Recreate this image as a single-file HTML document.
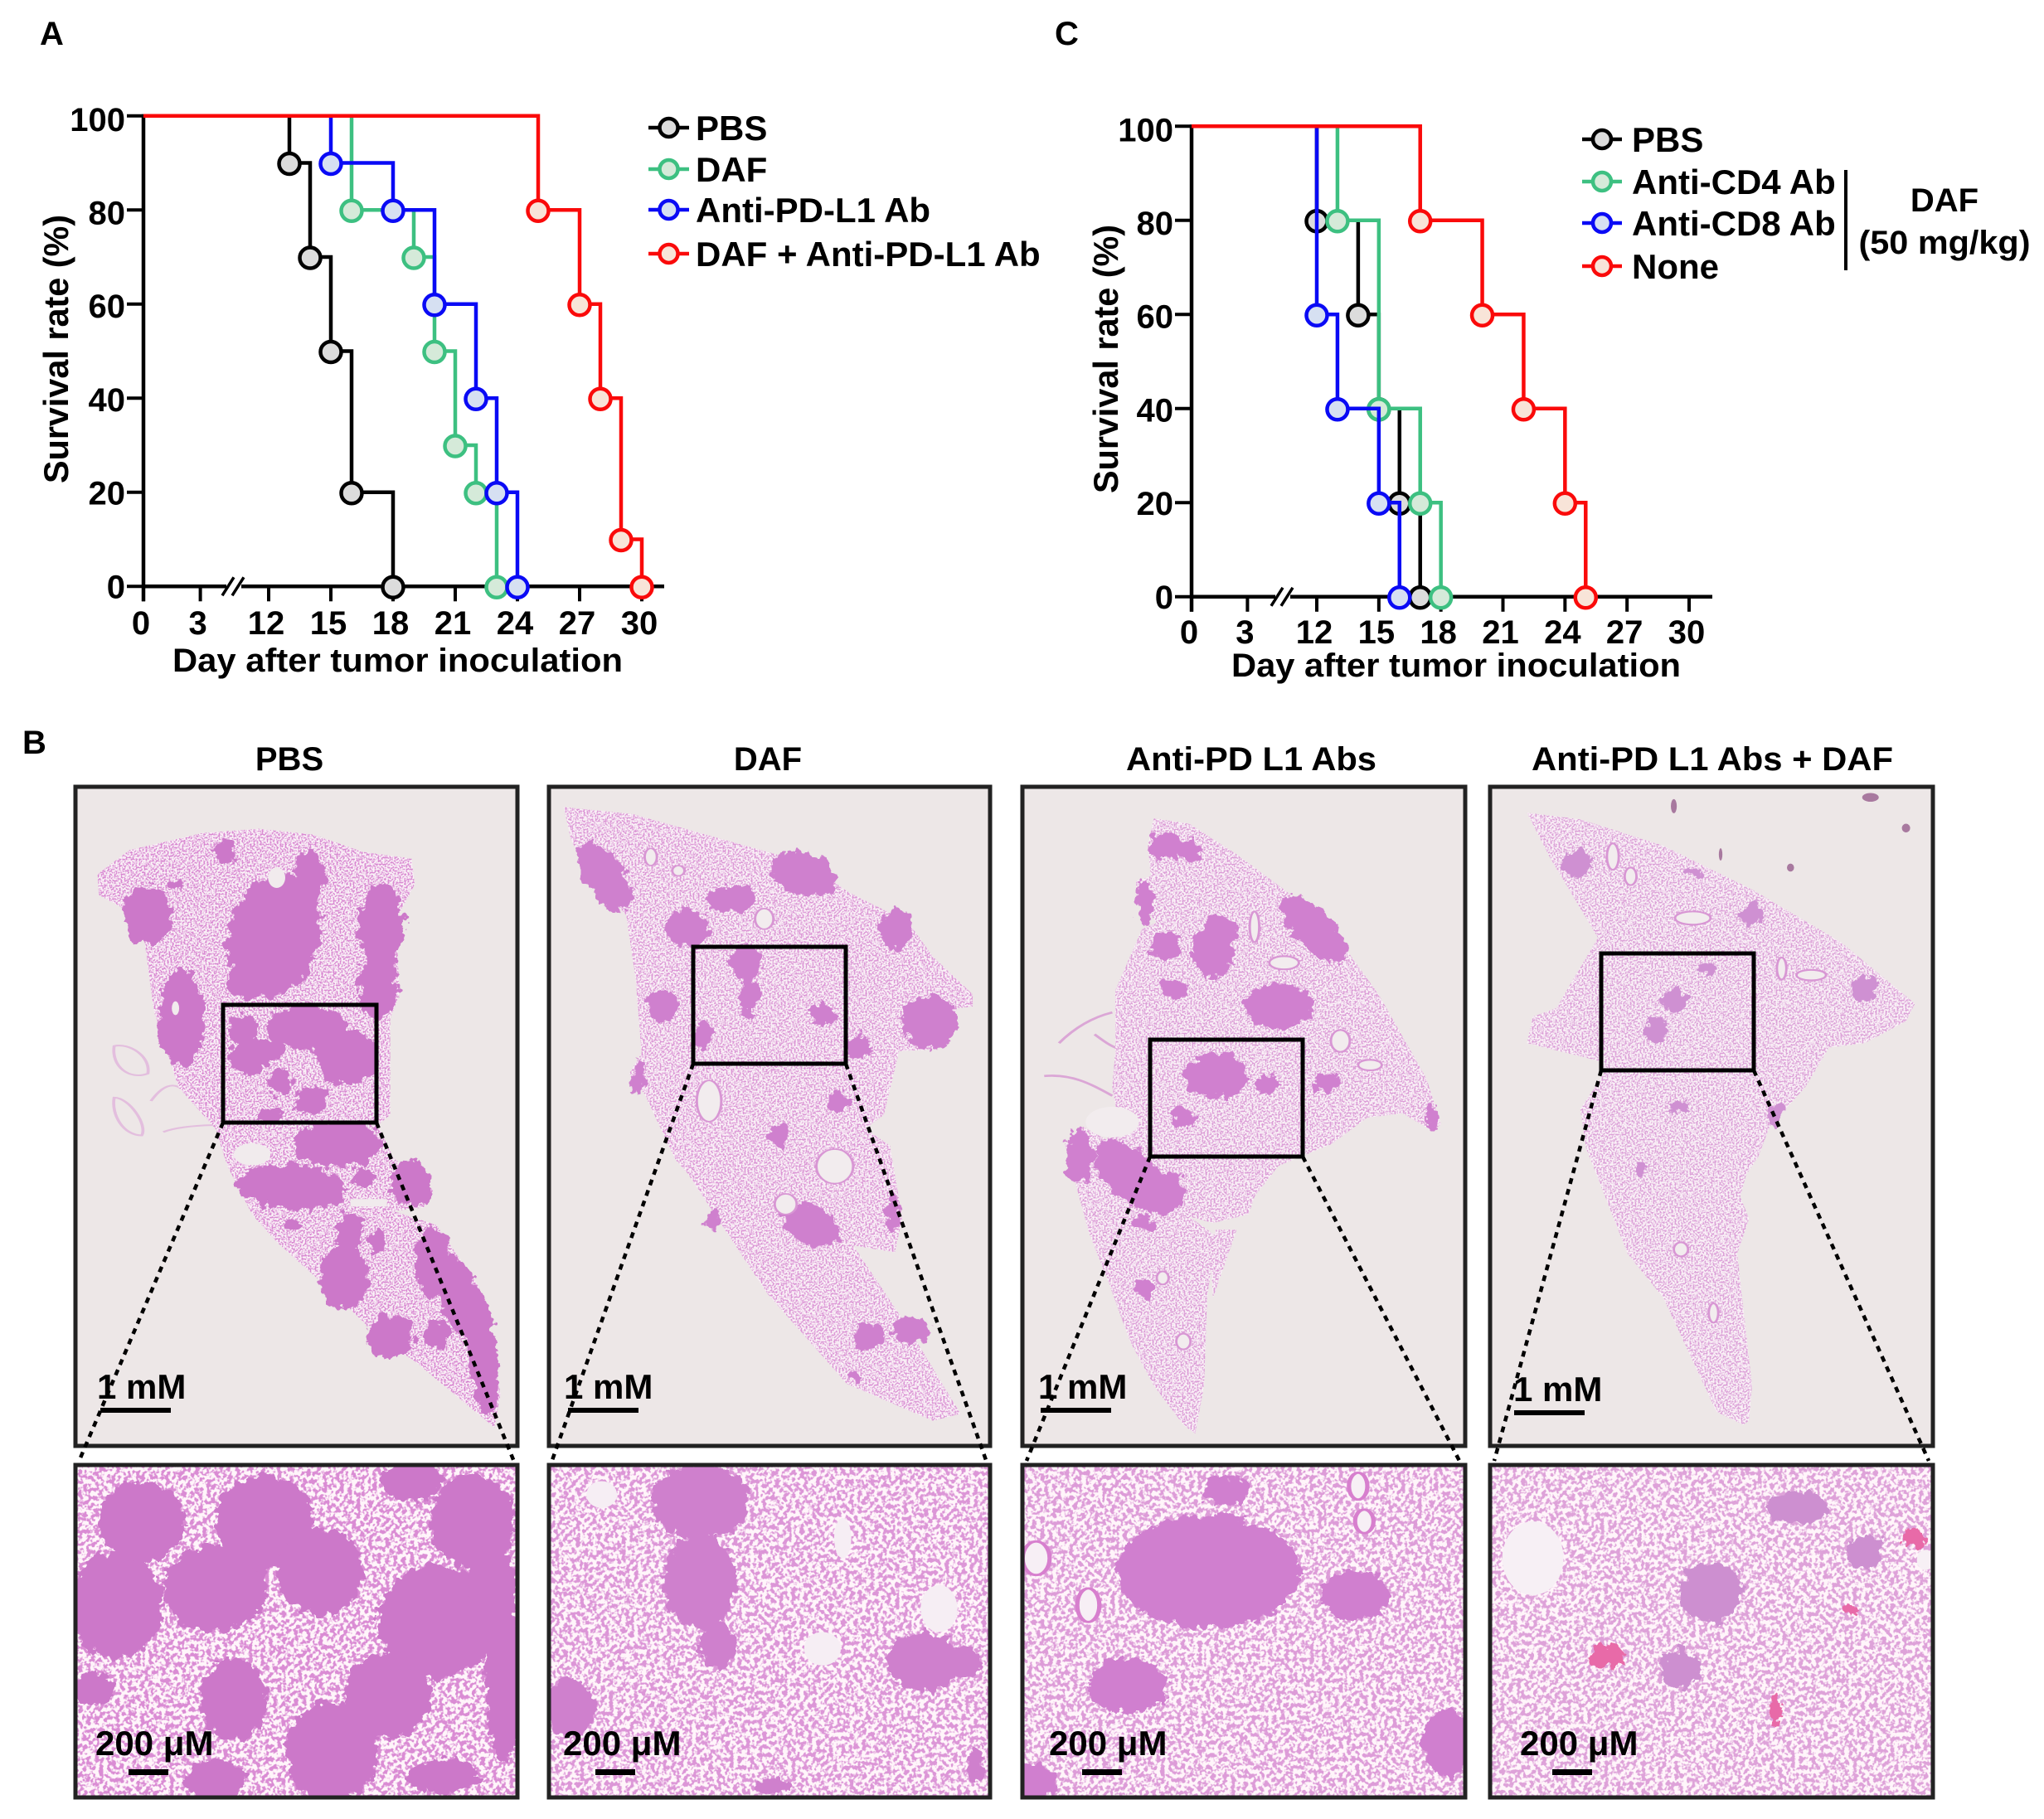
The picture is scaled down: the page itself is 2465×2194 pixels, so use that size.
<!DOCTYPE html>
<html lang="en">
<head>
<meta charset="utf-8">
<title>Survival curves and lung histology</title>
<style>
html,body{margin:0;padding:0;background:#fff}
svg{display:block}
text{font-family:"Liberation Sans",Arial,sans-serif;font-weight:700;font-size:40px;fill:#000}
text.big{font-size:42px}
</style>
</head>
<body>
<svg id="figure" width="2465" height="2194" viewBox="0 0 2465 2194" xmlns="http://www.w3.org/2000/svg">
<defs>
<filter id="laceFine" x="0" y="0" width="100%" height="100%" color-interpolation-filters="sRGB">
  <feTurbulence type="fractalNoise" baseFrequency="0.5" numOctaves="2" seed="4" result="n"/>
  <feColorMatrix in="n" type="matrix" values="0 0 0 0 0.98 0 0 0 0 0.95 0 0 0 0 0.97 8 0 0 0 -3.3" result="w"/>
  <feComposite in="w" in2="SourceGraphic" operator="atop"/>
</filter>
<filter id="laceCoarse" x="0" y="0" width="100%" height="100%" color-interpolation-filters="sRGB">
  <feTurbulence type="fractalNoise" baseFrequency="0.2" numOctaves="2" seed="9" result="n"/>
  <feColorMatrix in="n" type="matrix" values="0 0 0 0 1 0 0 0 0 0.96 0 0 0 0 0.98 8 0 0 0 -3.4" result="w"/>
  <feComposite in="w" in2="SourceGraphic" operator="atop"/>
</filter>
<filter id="rough" x="-10%" y="-10%" width="120%" height="120%" color-interpolation-filters="sRGB">
  <feTurbulence type="fractalNoise" baseFrequency="0.09" numOctaves="3" seed="2" result="n"/>
  <feDisplacementMap in="SourceGraphic" in2="n" scale="20" xChannelSelector="R" yChannelSelector="G"/>
</filter>
<clipPath id="clipP1"><rect x="91" y="1767" width="533" height="401"/></clipPath>
<clipPath id="clipP2"><rect x="662" y="1767" width="532" height="401"/></clipPath>
<clipPath id="clipP3"><rect x="1233" y="1767" width="534" height="401"/></clipPath>
<clipPath id="clipP4"><rect x="1797" y="1767" width="534" height="401"/></clipPath>
<clipPath id="clipU1"><rect x="91" y="949" width="533" height="795"/></clipPath>
<clipPath id="clipU2"><rect x="662" y="949" width="532" height="795"/></clipPath>
<clipPath id="clipU3"><rect x="1233" y="949" width="534" height="795"/></clipPath>
<clipPath id="clipU4"><rect x="1797" y="949" width="534" height="795"/></clipPath>
</defs>

<text x="48" y="54">A</text>
<text x="1272" y="54">C</text>
<text x="27" y="909">B</text>

<g id="chartA"></g>
<g id="chartC"></g>

<text class="big" transform="translate(82,421) rotate(-90)" text-anchor="middle" textLength="324" lengthAdjust="spacingAndGlyphs">Survival rate (%)</text>
<text x="208" y="810" textLength="543" lengthAdjust="spacingAndGlyphs">Day after tumor inoculation</text>
<text class="big" transform="translate(1348,433) rotate(-90)" text-anchor="middle" textLength="324" lengthAdjust="spacingAndGlyphs">Survival rate (%)</text>
<text x="1485" y="816" textLength="542" lengthAdjust="spacingAndGlyphs">Day after tumor inoculation</text>

<line x1="2226" y1="205" x2="2226" y2="326" stroke="#000" stroke-width="4"/>
<text x="2345" y="255" text-anchor="middle">DAF</text>
<text x="2345" y="306" text-anchor="middle" textLength="207" lengthAdjust="spacingAndGlyphs">(50 mg/kg)</text>

<text x="349" y="929" text-anchor="middle">PBS</text>
<text x="926" y="929" text-anchor="middle">DAF</text>
<text x="1509" y="929" text-anchor="middle" textLength="302" lengthAdjust="spacingAndGlyphs">Anti-PD L1 Abs</text>
<text x="2065" y="929" text-anchor="middle" textLength="436" lengthAdjust="spacingAndGlyphs">Anti-PD L1 Abs + DAF</text>

<!-- Panel backgrounds -->
<rect x="91" y="949" width="533" height="795" fill="#ede7e7"/>
<rect x="662" y="949" width="532" height="795" fill="#ede7e7"/>
<rect x="1233" y="949" width="534" height="795" fill="#ede7e7"/>
<rect x="1797" y="949" width="534" height="795" fill="#ede7e7"/>

<!-- Upper panel 1 -->
<g clip-path="url(#clipU1)">
 <g transform="translate(60,930) scale(.7396,.4146)" fill="none" stroke="#e3bede" stroke-width="5">
  <path d="M105,800 C130,790 165,830 160,880 C130,900 100,860 105,800 Z"/>
  <path d="M105,950 C130,950 160,1030 150,1060 C120,1060 100,1000 105,950 Z"/>
  <path d="M165,960 C190,900 210,900 235,960 L275,1030 C230,1030 200,1040 185,1050"/>
 </g>
 <g filter="url(#laceFine)">
  <g transform="translate(60,930) scale(.7396,.4146)" fill="#d98ad2">
   <path d="M250,180 L340,168 L430,185 L510,235 L590,255 L595,330 L565,430 L570,650 L555,720 L555,1000 L535,1030 L560,1125 L625,1220 L610,1270 L560,1280 L630,1320 L700,1500 L735,1812 L725,1910 L600,1724 L530,1636 L470,1530 L370,1370 L330,1290 L290,1150 L270,1040 L210,920 L170,700 L155,500 L120,400 L80,360 L78,300 L130,230 Z"/>
  </g>
 </g>
 <g filter="url(#rough)">
  <g transform="translate(60,930) scale(.7396,.4146)" fill="#cc78c9">
   <ellipse cx="160" cy="420" rx="40" ry="85"/><ellipse cx="205" cy="335" rx="10" ry="18"/><ellipse cx="285" cy="235" rx="15" ry="35"/>
   <ellipse cx="365" cy="480" rx="75" ry="180" transform="rotate(5 365 480)"/><ellipse cx="425" cy="300" rx="24" ry="70"/><ellipse cx="320" cy="610" rx="30" ry="50"/>
   <ellipse cx="540" cy="450" rx="38" ry="120"/><ellipse cx="535" cy="620" rx="32" ry="100"/><ellipse cx="215" cy="720" rx="38" ry="140"/>
   <ellipse cx="325" cy="830" rx="34" ry="55"/><ellipse cx="315" cy="750" rx="24" ry="45"/><ellipse cx="420" cy="745" rx="65" ry="65"/>
   <ellipse cx="360" cy="810" rx="25" ry="30"/><ellipse cx="485" cy="830" rx="50" ry="80"/><ellipse cx="375" cy="905" rx="20" ry="40"/>
   <ellipse cx="425" cy="960" rx="25" ry="40"/><ellipse cx="360" cy="1000" rx="18" ry="18"/><ellipse cx="470" cy="1085" rx="70" ry="70"/>
   <ellipse cx="510" cy="1180" rx="18" ry="25"/><ellipse cx="395" cy="1210" rx="90" ry="65" transform="rotate(15 395 1210)"/>
   <ellipse cx="590" cy="1200" rx="32" ry="70"/><ellipse cx="490" cy="1340" rx="22" ry="55"/><ellipse cx="535" cy="1370" rx="14" ry="34"/>
   <ellipse cx="395" cy="1320" rx="15" ry="15"/><ellipse cx="480" cy="1470" rx="40" ry="95"/><ellipse cx="625" cy="1430" rx="28" ry="105"/>
   <ellipse cx="670" cy="1530" rx="35" ry="120" transform="rotate(-10 670 1530)"/><ellipse cx="705" cy="1690" rx="25" ry="180" transform="rotate(-3 705 1690)"/>
   <ellipse cx="555" cy="1646" rx="38" ry="65"/><ellipse cx="630" cy="1641" rx="22" ry="38"/>
  </g>
 </g>
 <g transform="translate(60,930) scale(.7396,.4146)" fill="#f1ebed">
  <ellipse cx="205" cy="690" rx="6" ry="20"/><ellipse cx="330" cy="1115" rx="30" ry="32"/><ellipse cx="370" cy="310" rx="14" ry="30"/><rect x="490" y="1245" width="60" height="22"/>
 </g>
</g>

<!-- Upper panel 2 -->
<g clip-path="url(#clipU2)">
 <g filter="url(#laceFine)">
  <g transform="translate(60,930) scale(.7396,.4146)" fill="#dc98d6">
   <path d="M838,105 L950,125 L1000,150 L1160,230 L1240,270 L1300,350 L1400,440 L1440,540 L1505,650 L1505,685 L1480,690 L1440,810 L1385,815 L1360,1000 L1330,1040 L1370,1090 L1390,1300 L1378,1400 L1310,1380 L1400,1620 L1485,1870 L1440,1890 L1300,1783 L1170,1520 L1040,1170 L1020,1130 L970,940 L945,880 L965,820 L955,600 L940,420 L880,300 L850,200 Z"/>
  </g>
 </g>
 <g filter="url(#rough)">
  <g transform="translate(60,930) scale(.7396,.4146)" fill="#cf80ce">
   <ellipse cx="905" cy="310" rx="35" ry="105" transform="rotate(-15 905 310)"/><ellipse cx="1230" cy="300" rx="50" ry="70" transform="rotate(-25 1230 300)"/>
   <ellipse cx="1110" cy="370" rx="40" ry="40"/><ellipse cx="1040" cy="460" rx="35" ry="55"/><ellipse cx="1135" cy="560" rx="25" ry="55"/>
   <ellipse cx="1140" cy="650" rx="15" ry="60"/><ellipse cx="1000" cy="680" rx="25" ry="50"/><ellipse cx="1065" cy="770" rx="15" ry="40"/>
   <ellipse cx="1260" cy="710" rx="20" ry="30"/><ellipse cx="1320" cy="800" rx="18" ry="35"/><ellipse cx="1435" cy="730" rx="45" ry="80"/>
   <ellipse cx="1380" cy="460" rx="25" ry="60"/><ellipse cx="1285" cy="965" rx="18" ry="30"/><ellipse cx="1190" cy="1060" rx="15" ry="40"/>
   <ellipse cx="1240" cy="1320" rx="40" ry="70" transform="rotate(-25 1240 1320)"/><ellipse cx="1080" cy="1310" rx="15" ry="25"/>
   <ellipse cx="1375" cy="1280" rx="12" ry="60"/><ellipse cx="960" cy="890" rx="10" ry="50"/><ellipse cx="1335" cy="1646" rx="25" ry="40"/>
   <ellipse cx="1405" cy="1627" rx="30" ry="40"/><ellipse cx="1315" cy="1763" rx="10" ry="15"/>
  </g>
 </g>
 <g transform="translate(60,930) scale(.7396,.4146)" fill="#f2ecee" stroke="#d896d4" stroke-width="4">
  <ellipse cx="980" cy="250" rx="10" ry="25"/><ellipse cx="1025" cy="290" rx="10" ry="15"/><ellipse cx="1165" cy="430" rx="15" ry="30"/>
  <ellipse cx="1075" cy="960" rx="20" ry="60"/><ellipse cx="1280" cy="1150" rx="30" ry="50"/><ellipse cx="1200" cy="1260" rx="18" ry="30"/>
 </g>
</g>

<!-- Upper panel 3 -->
<g clip-path="url(#clipU3)">
 <g transform="translate(1220,930) scale(.7143,.5293)" fill="none" stroke="#dba6d6" stroke-width="5">
  <path d="M80,620 C110,580 140,560 170,550"/><path d="M55,695 C100,690 130,710 170,740"/><path d="M140,600 C170,630 190,650 215,615"/>
 </g>
 <g filter="url(#laceFine)">
  <g transform="translate(1220,930) scale(.7143,.5293)" fill="#dc9ed7">
   <path d="M240,108 L300,120 L380,190 L460,270 L540,360 L620,510 L700,700 L725,805 L710,820 L660,780 L600,790 L540,850 L450,900 L410,970 L400,1010 L340,1030 L300,1015 L345,1060 L330,1200 L325,1400 L310,1510 L290,1490 L240,1400 L200,1300 L165,1170 L130,1050 L90,850 L120,810 L160,840 L180,800 L170,720 L175,640 L175,500 L220,360 L245,345 L210,290 L210,250 L235,240 L230,170 Z"/>
   <path d="M345,1045 L380,1045 L340,1200 L335,1090 Z"/>
  </g>
 </g>
 <g filter="url(#rough)">
  <g transform="translate(1220,930) scale(.7143,.5293)" fill="#d080cf">
   <ellipse cx="510" cy="360" rx="35" ry="90" transform="rotate(-30 510 360)"/><ellipse cx="260" cy="170" rx="30" ry="30"/><ellipse cx="300" cy="180" rx="20" ry="25"/>
   <ellipse cx="225" cy="300" rx="15" ry="50"/><ellipse cx="340" cy="410" rx="35" ry="60"/><ellipse cx="350" cy="370" rx="30" ry="40"/>
   <ellipse cx="260" cy="400" rx="25" ry="30"/><ellipse cx="275" cy="495" rx="25" ry="25"/><ellipse cx="450" cy="535" rx="60" ry="50"/>
   <ellipse cx="345" cy="695" rx="55" ry="50"/><ellipse cx="430" cy="715" rx="20" ry="20"/><ellipse cx="290" cy="790" rx="20" ry="25"/>
   <ellipse cx="530" cy="710" rx="20" ry="25"/><ellipse cx="710" cy="785" rx="12" ry="30"/><ellipse cx="115" cy="880" rx="25" ry="60"/>
   <ellipse cx="200" cy="920" rx="45" ry="90" transform="rotate(-30 200 920)"/><ellipse cx="250" cy="960" rx="40" ry="50"/><ellipse cx="220" cy="1030" rx="20" ry="20"/>
   <ellipse cx="225" cy="1180" rx="18" ry="20"/>
  </g>
 </g>
 <g transform="translate(1220,930) scale(.7143,.5293)" fill="#f2ecee" stroke="#d896d4" stroke-width="4">
  <ellipse cx="410" cy="355" rx="8" ry="35"/><ellipse cx="460" cy="437" rx="25" ry="15"/><ellipse cx="555" cy="615" rx="16" ry="25"/>
  <ellipse cx="605" cy="670" rx="20" ry="12"/><ellipse cx="170" cy="800" rx="45" ry="35" stroke="none"/><ellipse cx="290" cy="1300" rx="12" ry="18"/><ellipse cx="255" cy="1155" rx="10" ry="15"/>
 </g>
</g>

<!-- Upper panel 4 -->
<g clip-path="url(#clipU4)">
 <g filter="url(#laceFine)">
  <g transform="translate(1220,930) scale(.7143,.5293)" fill="#dca2d8">
   <path d="M870,95 L960,110 L1100,170 L1250,270 L1400,390 L1525,530 L1510,570 L1440,620 L1380,630 L1340,720 L1280,810 L1260,880 L1240,920 L1230,970 L1245,1020 L1225,1100 L1250,1400 L1245,1480 L1235,1490 L1190,1460 L1100,1200 L1040,1100 L970,860 L960,770 L1000,690 L990,660 L960,650 L870,620 L880,560 L920,540 L950,470 L990,380 L910,200 Z"/>
  </g>
 </g>
 <g filter="url(#rough)">
  <g transform="translate(1220,930) scale(.7143,.5293)" fill="#cf90d2">
   <ellipse cx="955" cy="208" rx="25" ry="30"/><ellipse cx="1250" cy="325" rx="18" ry="25"/><ellipse cx="1155" cy="232" rx="15" ry="8"/>
   <ellipse cx="1440" cy="495" rx="22" ry="30"/><ellipse cx="1120" cy="520" rx="20" ry="30"/><ellipse cx="1090" cy="590" rx="20" ry="30"/>
   <ellipse cx="1125" cy="765" rx="15" ry="18"/><ellipse cx="1060" cy="905" rx="10" ry="15"/><ellipse cx="1175" cy="450" rx="15" ry="15"/>
   <ellipse cx="1290" cy="780" rx="15" ry="25"/>
  </g>
 </g>
 <g transform="translate(1220,930) scale(.7143,.5293)" fill="#f2ecee" stroke="#d896d4" stroke-width="4">
  <ellipse cx="1150" cy="335" rx="30" ry="15"/><ellipse cx="1015" cy="195" rx="10" ry="30"/><ellipse cx="1045" cy="240" rx="10" ry="20"/>
  <ellipse cx="1350" cy="465" rx="25" ry="12"/><ellipse cx="1300" cy="450" rx="8" ry="25"/><ellipse cx="1130" cy="1090" rx="12" ry="16"/><ellipse cx="1185" cy="1235" rx="8" ry="22"/>
 </g>
 <g transform="translate(1220,930) scale(.7143,.5293)" fill="#a8799f">
  <ellipse cx="1118" cy="80" rx="5" ry="16"/><ellipse cx="1450" cy="60" rx="14" ry="10"/><ellipse cx="1510" cy="130" rx="7" ry="10"/><ellipse cx="1197" cy="190" rx="3" ry="14"/><ellipse cx="1315" cy="220" rx="6" ry="9"/>
 </g>
</g>

<!-- Inner zoom boxes -->
<rect x="269" y="1212" width="185" height="142" fill="none" stroke="#000" stroke-width="5"/>
<rect x="836" y="1142" width="184" height="141" fill="none" stroke="#000" stroke-width="5"/>
<rect x="1387" y="1254" width="184" height="141" fill="none" stroke="#000" stroke-width="5"/>
<rect x="1931" y="1150" width="184" height="141" fill="none" stroke="#000" stroke-width="5"/>

<!-- Lower panels -->
<g clip-path="url(#clipP1)">
 <g filter="url(#laceCoarse)"><rect x="91" y="1767" width="533" height="401" fill="#da8cd4"/></g>
 <g filter="url(#rough)">
  <g transform="translate(60,1560) scale(.7396,.4044)" fill="#cc78c9">
   <ellipse cx="110" cy="930" rx="75" ry="160"/><ellipse cx="270" cy="880" rx="85" ry="130"/><ellipse cx="150" cy="680" rx="70" ry="120"/>
   <ellipse cx="350" cy="680" rx="80" ry="140"/><ellipse cx="440" cy="830" rx="70" ry="130"/><ellipse cx="590" cy="560" rx="50" ry="60"/>
   <ellipse cx="690" cy="680" rx="70" ry="140"/><ellipse cx="630" cy="980" rx="95" ry="170"/><ellipse cx="740" cy="1150" rx="30" ry="250"/>
   <ellipse cx="300" cy="1210" rx="55" ry="120"/><ellipse cx="550" cy="1200" rx="70" ry="130"/><ellipse cx="460" cy="1370" rx="75" ry="150"/>
   <ellipse cx="270" cy="1450" rx="50" ry="60"/><ellipse cx="640" cy="1440" rx="60" ry="50"/><ellipse cx="70" cy="1180" rx="35" ry="50"/>
   <ellipse cx="720" cy="870" rx="40" ry="130"/>
  </g>
 </g>
</g>
<g clip-path="url(#clipP2)">
 <g filter="url(#laceCoarse)"><rect x="662" y="1767" width="532" height="401" fill="#dc96d7"/></g>
 <g filter="url(#rough)">
  <g transform="translate(60,1560) scale(.7396,.4044)" fill="#cf80cd">
   <ellipse cx="1060" cy="620" rx="80" ry="110"/><ellipse cx="1060" cy="860" rx="60" ry="140"/><ellipse cx="1090" cy="1050" rx="30" ry="70"/>
   <ellipse cx="1425" cy="1100" rx="60" ry="90"/><ellipse cx="1490" cy="1100" rx="30" ry="50"/><ellipse cx="850" cy="1240" rx="40" ry="90"/>
   <ellipse cx="1180" cy="1470" rx="30" ry="20"/><ellipse cx="1510" cy="1400" rx="15" ry="50"/>
  </g>
 </g>
 <g transform="translate(60,1560) scale(.7396,.4044)" fill="#f6eef4">
  <ellipse cx="1293" cy="730" rx="14" ry="60"/><ellipse cx="900" cy="600" rx="25" ry="40"/><ellipse cx="1450" cy="940" rx="30" ry="70"/><ellipse cx="1260" cy="1060" rx="30" ry="50"/>
 </g>
</g>
<g clip-path="url(#clipP3)">
 <g filter="url(#laceCoarse)"><rect x="1233" y="1767" width="534" height="401" fill="#dd9cd8"/></g>
 <g filter="url(#rough)">
  <g transform="translate(1220,1560) scale(.7396,.4044)" fill="#d07fcf">
   <ellipse cx="320" cy="830" rx="150" ry="170"/><ellipse cx="560" cy="900" rx="55" ry="75"/><ellipse cx="190" cy="1170" rx="65" ry="85"/>
   <ellipse cx="710" cy="1340" rx="40" ry="100"/><ellipse cx="30" cy="1460" rx="40" ry="60"/><ellipse cx="350" cy="590" rx="40" ry="40"/>
  </g>
 </g>
 <g transform="translate(1220,1560) scale(.7396,.4044)" fill="#f7eff5" stroke="#d77fce" stroke-width="7">
  <ellipse cx="40" cy="790" rx="22" ry="50"/><ellipse cx="125" cy="930" rx="18" ry="50"/><ellipse cx="565" cy="575" rx="15" ry="40"/><ellipse cx="575" cy="680" rx="15" ry="35"/>
 </g>
</g>
<g clip-path="url(#clipP4)">
 <g filter="url(#laceCoarse)"><rect x="1797" y="1767" width="534" height="401" fill="#dea2d9"/></g>
 <g filter="url(#rough)">
  <g transform="translate(1220,1560) scale(.7396,.4044)" fill="#cd8fd0">
   <ellipse cx="1140" cy="890" rx="50" ry="90"/><ellipse cx="1280" cy="640" rx="50" ry="50"/><ellipse cx="1390" cy="770" rx="30" ry="50"/>
   <ellipse cx="1090" cy="1120" rx="30" ry="60"/>
  </g>
  <g transform="translate(1220,1560) scale(.7396,.4044)" fill="#e86aa8">
   <ellipse cx="970" cy="1085" rx="28" ry="35"/><ellipse cx="1245" cy="1240" rx="8" ry="50"/><ellipse cx="1470" cy="730" rx="20" ry="30"/><ellipse cx="1370" cy="945" rx="12" ry="16"/>
  </g>
 </g>
 <g transform="translate(1220,1560) scale(.7396,.4044)" fill="#f7f0f5">
  <ellipse cx="850" cy="790" rx="50" ry="110"/><ellipse cx="1490" cy="795" rx="14" ry="30"/>
 </g>
</g>

<!-- Panel frames -->
<rect x="91" y="949" width="533" height="795" fill="none" stroke="#222" stroke-width="5"/>
<rect x="662" y="949" width="532" height="795" fill="none" stroke="#222" stroke-width="5"/>
<rect x="1233" y="949" width="534" height="795" fill="none" stroke="#222" stroke-width="5"/>
<rect x="1797" y="949" width="534" height="795" fill="none" stroke="#222" stroke-width="5"/>
<rect x="91" y="1767" width="533" height="401" fill="none" stroke="#222" stroke-width="5"/>
<rect x="662" y="1767" width="532" height="401" fill="none" stroke="#222" stroke-width="5"/>
<rect x="1233" y="1767" width="534" height="401" fill="none" stroke="#222" stroke-width="5"/>
<rect x="1797" y="1767" width="534" height="401" fill="none" stroke="#222" stroke-width="5"/>

<!-- Dotted zoom connectors -->
<g stroke="#000" stroke-width="4.5" stroke-dasharray="7 6.5" fill="none">
 <line x1="269" y1="1354" x2="95" y2="1763"/>
 <line x1="454" y1="1354" x2="620" y2="1763"/>
 <line x1="836" y1="1283" x2="666" y2="1761"/>
 <line x1="1020" y1="1283" x2="1189" y2="1761"/>
 <line x1="1387" y1="1395" x2="1238" y2="1762"/>
 <line x1="1571" y1="1395" x2="1760" y2="1762"/>
 <line x1="1931" y1="1291" x2="1802" y2="1762"/>
 <line x1="2115" y1="1291" x2="2326" y2="1762"/>
</g>

<!-- Scale bars -->
<text class="big" x="117" y="1687">1 mM</text>
<rect x="121" y="1698" width="85" height="6"/>
<text class="big" x="680" y="1687">1 mM</text>
<rect x="685" y="1698" width="85" height="6"/>
<text class="big" x="1252" y="1687">1 mM</text>
<rect x="1255" y="1698" width="85" height="6"/>
<text class="big" x="1825" y="1690">1 mM</text>
<rect x="1826" y="1701" width="85" height="6"/>
<text class="big" x="115" y="2117">200 μM</text>
<rect x="155" y="2134" width="48" height="7"/>
<text class="big" x="679" y="2117">200 μM</text>
<rect x="718" y="2134" width="48" height="7"/>
<text class="big" x="1265" y="2117">200 μM</text>
<rect x="1305" y="2134" width="48" height="7"/>
<text class="big" x="1833" y="2117">200 μM</text>
<rect x="1872" y="2134" width="48" height="7"/>

<script>
const NS = 'http://www.w3.org/2000/svg';

const dayTicks = [0, 3, 12, 15, 18, 21, 24, 27, 30];
const survivalTicks = [0, 20, 40, 60, 80, 100];

const pbsDaysA = [13, 14, 15, 16, 18];
const pbsSurvivalA = [90, 70, 50, 20, 0];
const dafDaysA = [16, 19, 20, 21, 22, 23];
const dafSurvivalA = [80, 70, 50, 30, 20, 0];
const antiPdl1DaysA = [15, 18, 20, 22, 23, 24];
const antiPdl1SurvivalA = [90, 80, 60, 40, 20, 0];
const comboDaysA = [25, 27, 28, 29, 30];
const comboSurvivalA = [80, 60, 40, 10, 0];
const legendLabelsA = ['PBS', 'DAF', 'Anti-PD-L1 Ab', 'DAF + Anti-PD-L1 Ab'];

const pbsDaysC = [12, 14, 15, 16, 17];
const pbsSurvivalC = [80, 60, 40, 20, 0];
const cd4DaysC = [13, 15, 17, 18];
const cd4SurvivalC = [80, 40, 20, 0];
const cd8DaysC = [12, 13, 15, 16];
const cd8SurvivalC = [60, 40, 20, 0];
const noneDaysC = [17, 20, 22, 24, 25];
const noneSurvivalC = [80, 60, 40, 20, 0];
const legendLabelsC = ['PBS', 'Anti-CD4 Ab', 'Anti-CD8 Ab', 'None'];

const seriesStroke = ['#000000', '#3dc081', '#0a0af5', '#fa0a0a'];
const seriesFill = ['#dcdcdc', '#d5ead9', '#d6e0f2', '#f8e4d8'];

function shape(parent, tag, attrs) {
  const el = document.createElementNS(NS, tag);
  for (const k in attrs) el.setAttribute(k, attrs[k]);
  parent.appendChild(el);
  return el;
}

function drawChart(root, cfg, series, legendLabels, legendCfg) {
  const xAxis = function (d) {
    if (d <= 3) return cfg.x0 + (cfg.x3 - cfg.x0) * d / 3;
    return cfg.x12 + (cfg.x30 - cfg.x12) * (d - 12) / 18;
  };
  const yAxis = function (v) {
    return cfg.y0 + (cfg.y100 - cfg.y0) * v / 100;
  };

  survivalTicks.forEach(function (v) {
    const t = shape(root, 'line', {x1: cfg.x0 - 20, x2: cfg.x0, y1: yAxis(v), y2: yAxis(v), stroke: '#000', 'stroke-width': 4});
    
    
    const l = shape(root, 'text', {x: cfg.x0 - 22, y: yAxis(v) + 14 + v * 0.04, 'text-anchor': 'end'});
    l.textContent = String(v);
    
    
  });
  dayTicks.forEach(function (d) {
    const t = shape(root, 'line', {x1: xAxis(d), x2: xAxis(d), y1: cfg.y0, y2: cfg.y0 + 18, stroke: '#000', 'stroke-width': 4});
    
    
    const l = shape(root, 'text', {x: xAxis(d) - 3, y: cfg.tickBase, 'text-anchor': 'middle'});
    l.textContent = String(d);
    
    
  });

  const yLine = shape(root, 'line', {x1: cfg.x0, x2: cfg.x0, y1: cfg.y100 - 2, y2: cfg.y0 + 18, stroke: '#000', 'stroke-width': 4.5});
  
  
  const xa = shape(root, 'line', {x1: cfg.x0, x2: cfg.breakX - 9, y1: cfg.y0, y2: cfg.y0, stroke: '#000', 'stroke-width': 4.5});
  
  
  const xb = shape(root, 'line', {x1: cfg.breakX + 9, x2: cfg.xEnd, y1: cfg.y0, y2: cfg.y0, stroke: '#000', 'stroke-width': 4.5});
  
  
  [-7, 5].forEach(function (dx) {
    const s = shape(root, 'line', {x1: cfg.breakX + dx - 7, x2: cfg.breakX + dx + 7, y1: cfg.y0 + 11, y2: cfg.y0 - 11, stroke: '#000', 'stroke-width': 3.5});
    
    
  });

  series.forEach(function (sr, i) {
    const g = shape(root, 'g', {});
    
    
    let d = 'M' + xAxis(0) + ',' + yAxis(100);
    let prev = 100;
    sr.days.forEach(function (day, k) {
      d += ' L' + xAxis(day) + ',' + yAxis(prev) + ' L' + xAxis(day) + ',' + yAxis(sr.values[k]);
      prev = sr.values[k];
    });
    const p = shape(g, 'path', {d: d, fill: 'none', stroke: seriesStroke[i], 'stroke-width': 4.5, 'stroke-linejoin': 'miter'});
    
    
    sr.days.forEach(function (day, k) {
      const c = shape(g, 'circle', {cx: xAxis(day), cy: yAxis(sr.values[k]) + 1, r: 12.5, fill: seriesFill[i], stroke: seriesStroke[i], 'stroke-width': 4.5});
      
      
    });
  });

  legendLabels.forEach(function (label, i) {
    const lg = shape(root, 'g', {});
    
    
    const cy = legendCfg.ys[i];
    shape(lg, 'line', {x1: legendCfg.x1, x2: legendCfg.x2, y1: cy, y2: cy, stroke: seriesStroke[i], 'stroke-width': 4.5});
    shape(lg, 'circle', {cx: (legendCfg.x1 + legendCfg.x2) / 2, cy: cy, r: 11, fill: seriesFill[i], stroke: seriesStroke[i], 'stroke-width': 4.5});
    const t = shape(lg, 'text', {x: legendCfg.tx, y: cy + 15, 'class': 'big'});
    t.textContent = label;
  });
}

drawChart(document.getElementById('chartA'),
  {x0: 173, x3: 241.6, x12: 324, x30: 774, y0: 707.3, y100: 139.8, breakX: 282, xEnd: 801, tickBase: 765},
  [{days: pbsDaysA, values: pbsSurvivalA}, {days: dafDaysA, values: dafSurvivalA},
   {days: antiPdl1DaysA, values: antiPdl1SurvivalA}, {days: comboDaysA, values: comboSurvivalA}],
  legendLabelsA,
  {x1: 782, x2: 831, tx: 839, ys: [154, 204, 253, 306]});

drawChart(document.getElementById('chartC'),
  {x0: 1437, x3: 1504.4, x12: 1588, x30: 2037, y0: 719.8, y100: 152.3, breakX: 1547, xEnd: 2065, tickBase: 776},
  [{days: pbsDaysC, values: pbsSurvivalC}, {days: cd4DaysC, values: cd4SurvivalC},
   {days: cd8DaysC, values: cd8SurvivalC}, {days: noneDaysC, values: noneSurvivalC}],
  legendLabelsC,
  {x1: 1908, x2: 1956, tx: 1968, ys: [168, 219, 269, 321]});
</script>
</svg>
</body>
</html>
